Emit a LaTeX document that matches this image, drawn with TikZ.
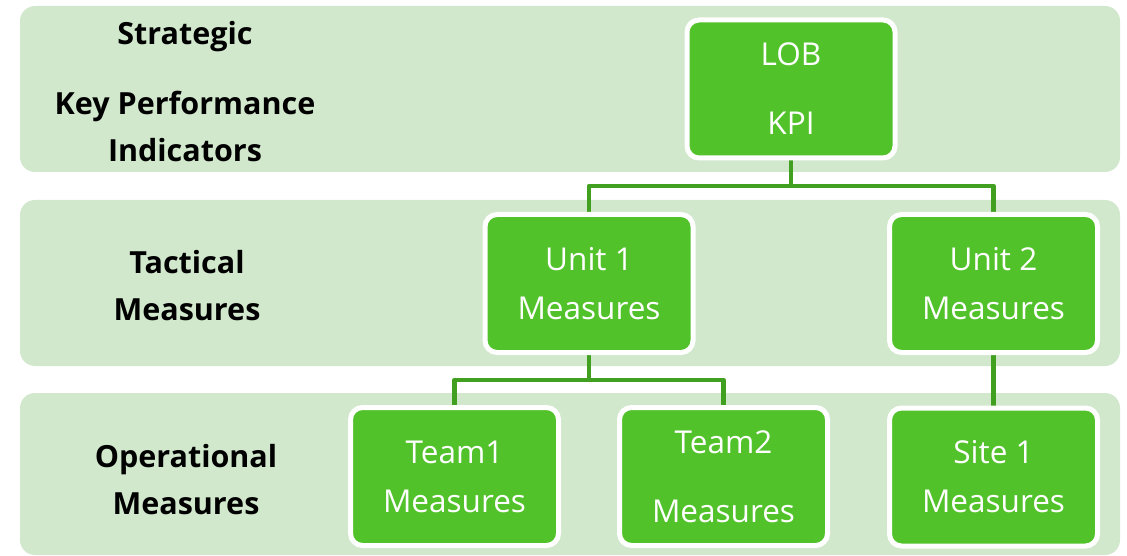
\documentclass[tikz,border=0pt]{standalone}
\usepackage{fontspec}
\setmainfont{Open Sans}
\usetikzlibrary{backgrounds}
\definecolor{bandfill}{RGB}{209,232,204}
\definecolor{boxfill}{RGB}{82,194,43}
\definecolor{linkgreen}{RGB}{66,160,32}
\tikzset{
  band/.style={fill=bandfill, draw=none, rounded corners=15pt},
  unitbox/.style={rectangle, fill=boxfill, draw=white, line width=5pt,
    rounded corners=12pt, minimum width=208pt, minimum height=138pt,
    inner sep=0pt, align=center, text=white,
    font=\fontsize{31.5}{49}\selectfont},
  tierlabel/.style={align=center, text=black,
    font=\bfseries\fontsize{30.5}{47}\selectfont},
  link/.style={draw=linkgreen, line width=4.5pt, line join=round}
}
\begin{document}
\begin{tikzpicture}[x=1pt, y=-1pt]
\useasboundingbox (0,0) rectangle (1127,556);

% tier labels
\node[tierlabel] (lstrat) at (185,91.5) {Strategic\\[23pt]Key Performance\\Indicators};
\node[tierlabel] (ltact) at (187,285.5) {Tactical\\Measures};
\node[tierlabel] (loper) at (186,479.5) {Operational\\Measures};

% measure boxes
\node[unitbox] (lob) at (791,89) {LOB\\[20pt]KPI};
\node[unitbox] (u1) at (589,283.5) {Unit 1\\Measures};
\node[unitbox] (u2) at (993.5,283.5) {Unit 2\\Measures};
\node[unitbox] (t1) at (454.5,476.5) {Team1\\Measures};
\node[unitbox] (t2) at (723.5,476.5) {Team2\\[20pt]Measures};
\node[unitbox] (s1) at (993.5,477) {Site 1\\Measures};

\coordinate (j1) at (791,186);
\coordinate (j2) at (589,380);

\begin{scope}[on background layer]
  % tier bands
  \fill[band] (20,6) rectangle (1120,172);
  \fill[band] (20,200) rectangle (1120,366);
  \fill[band] (20,393) rectangle (1120,555);
  % connectors
  \draw[link] (lob.south) -- (j1) -| (u1.north);
  \draw[link] (j1) -| (u2.north);
  \draw[link] (u1.south) -- (j2) -| (t1.north);
  \draw[link] (j2) -| (t2.north);
  \draw[link] (u2.south) -- (s1.north);
\end{scope}
\end{tikzpicture}
\end{document}
